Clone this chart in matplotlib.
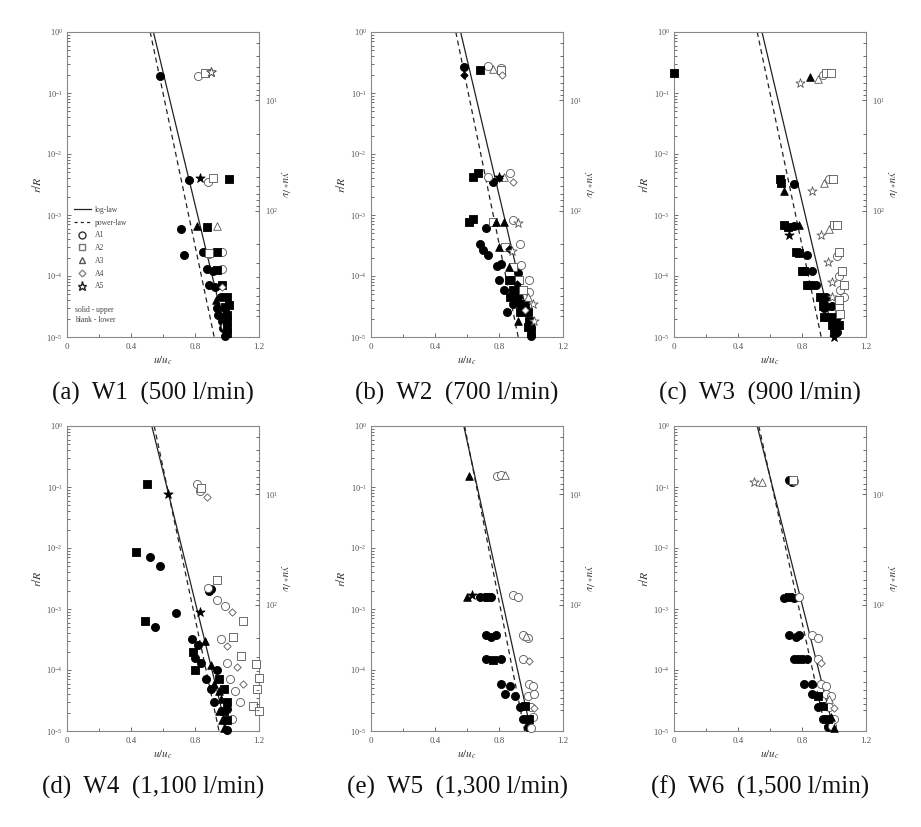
import numpy as np
import matplotlib
matplotlib.use("Agg")
import matplotlib.pyplot as plt
from matplotlib.lines import Line2D
from matplotlib.ticker import LogLocator, NullFormatter, MultipleLocator

plt.rcParams['font.family'] = ['Liberation Serif', 'DejaVu Serif']
plt.rcParams['mathtext.fontset'] = 'stix'

# panel captions
captions = ['(a)  W1  (500 l/min)', '(b)  W2  (700 l/min)', '(c)  W3  (900 l/min)',
            '(d)  W4  (1,100 l/min)', '(e)  W5  (1,300 l/min)', '(f)  W6  (1,500 l/min)']

# log-law (solid) and power-law (dashed): u/u_c at r/R = 1 and r/R = 1e-5
loglaw_top = [0.54, 0.56, 0.55, 0.53, 0.58, 0.52]
loglaw_bot = [1.00, 1.01, 1.00, 1.00, 1.00, 1.00]
powlaw_top = [0.52, 0.53, 0.52, 0.545, 0.585, 0.53]
powlaw_bot = [0.92, 0.92, 0.92, 0.95, 0.96, 0.95]

# points: (kind, u/u_c, r/R); upper case = solid (upper), lower case = blank (lower)
# O/o = A1, S/s = A2, T/t = A3, D/d = A4, P/p = A5
W1 = [('O', 0.58, 0.19), ('o', 0.82, 0.19), ('s', 0.86, 0.21), ('p', 0.90, 0.22), ('P', 0.90, 0.22),
      ('O', 0.76, 3.7e-3), ('P', 0.83, 4.1e-3), ('o', 0.88, 3.5e-3), ('s', 0.91, 4.0e-3), ('S', 1.01, 3.9e-3),
      ('O', 0.71, 6.0e-4), ('T', 0.81, 6.5e-4), ('S', 0.875, 6.3e-4), ('t', 0.94, 6.5e-4),
      ('O', 0.73, 2.2e-4), ('O', 0.85, 2.5e-4), ('o', 0.89, 2.3e-4), ('s', 0.89, 2.4e-4), ('S', 0.94, 2.5e-4),
      ('o', 0.97, 2.5e-4),
      ('O', 0.875, 1.3e-4), ('O', 0.91, 1.2e-4), ('S', 0.94, 1.25e-4), ('o', 0.97, 1.3e-4),
      ('O', 0.89, 7.0e-5), ('O', 0.925, 6.5e-5), ('S', 0.97, 7.0e-5), ('d', 0.97, 6.5e-5),
      ('O', 0.96, 4.6e-5), ('S', 1.00, 4.5e-5), ('T', 0.93, 4.0e-5),
      ('O', 0.94, 3.0e-5), ('S', 0.99, 3.1e-5), ('S', 1.01, 3.3e-5),
      ('O', 0.945, 2.3e-5), ('S', 1.00, 2.3e-5), ('T', 0.98, 2.5e-5),
      ('O', 0.97, 1.8e-5), ('S', 1.00, 1.8e-5),
      ('O', 0.975, 1.4e-5), ('S', 1.00, 1.4e-5), ('o', 0.99, 1.5e-5),
      ('S', 1.00, 1.15e-5), ('O', 0.99, 1.05e-5)]

W2 = [('O', 0.58, 0.27), ('D', 0.58, 0.20), ('S', 0.68, 0.24), ('o', 0.73, 0.28), ('t', 0.76, 0.245),
      ('s', 0.81, 0.24), ('d', 0.82, 0.20), ('o', 0.81, 0.26),
      ('S', 0.64, 4.2e-3), ('S', 0.67, 4.9e-3), ('o', 0.73, 4.2e-3), ('O', 0.76, 3.5e-3), ('D', 0.80, 4.0e-3),
      ('P', 0.80, 4.2e-3), ('t', 0.83, 4.2e-3), ('o', 0.87, 4.9e-3), ('d', 0.89, 3.5e-3),
      ('S', 0.61, 7.8e-4), ('S', 0.64, 8.5e-4), ('O', 0.72, 6.2e-4), ('s', 0.76, 7.8e-4), ('T', 0.78, 7.8e-4),
      ('T', 0.83, 7.8e-4), ('o', 0.885, 8.2e-4), ('p', 0.92, 7.5e-4),
      ('O', 0.68, 3.3e-4), ('O', 0.70, 2.7e-4), ('O', 0.73, 2.2e-4), ('T', 0.80, 3.0e-4), ('s', 0.84, 3.0e-4),
      ('D', 0.86, 2.8e-4), ('o', 0.93, 3.3e-4), ('p', 0.88, 2.6e-4),
      ('O', 0.79, 1.45e-4), ('O', 0.81, 1.6e-4), ('T', 0.86, 1.4e-4), ('s', 0.89, 1.4e-4), ('o', 0.935, 1.5e-4),
      ('O', 0.92, 1.1e-4),
      ('O', 0.80, 8.5e-5), ('S', 0.86, 8.5e-5), ('S', 0.885, 8.5e-5), ('s', 0.925, 8.5e-5), ('o', 0.99, 8.5e-5),
      ('D', 0.91, 7.5e-5),
      ('O', 0.83, 5.9e-5), ('S', 0.885, 5.9e-5), ('O', 0.92, 5.9e-5), ('s', 0.95, 5.9e-5), ('o', 0.99, 5.5e-5),
      ('S', 0.87, 4.6e-5), ('O', 0.92, 4.6e-5), ('t', 0.98, 4.6e-5), ('S', 0.90, 4.0e-5),
      ('O', 0.885, 3.5e-5), ('S', 0.935, 3.5e-5), ('S', 0.965, 3.5e-5), ('p', 1.01, 3.5e-5),
      ('O', 0.85, 2.6e-5), ('S', 0.93, 2.6e-5), ('S', 0.98, 2.6e-5), ('d', 0.96, 2.8e-5),
      ('T', 0.92, 1.8e-5), ('S', 0.99, 1.8e-5), ('p', 1.02, 1.8e-5),
      ('S', 0.98, 1.45e-5), ('O', 1.00, 1.45e-5),
      ('S', 1.00, 1.2e-5), ('O', 1.00, 1.05e-5)]

W3 = [('S', 0.00, 0.21), ('p', 0.79, 0.145), ('T', 0.85, 0.18), ('t', 0.90, 0.17), ('o', 0.93, 0.20),
      ('s', 0.95, 0.21), ('s', 0.98, 0.21),
      ('S', 0.66, 3.9e-3), ('S', 0.67, 3.4e-3), ('T', 0.69, 2.5e-3), ('O', 0.75, 3.2e-3), ('p', 0.86, 2.5e-3),
      ('t', 0.94, 3.4e-3), ('o', 0.97, 3.9e-3), ('s', 0.995, 3.9e-3),
      ('S', 0.69, 6.9e-4), ('S', 0.71, 6.3e-4), ('O', 0.75, 6.5e-4), ('T', 0.78, 6.9e-4), ('P', 0.72, 4.7e-4),
      ('p', 0.92, 4.7e-4), ('t', 0.97, 6.0e-4), ('s', 1.00, 6.9e-4), ('s', 1.02, 6.9e-4),
      ('S', 0.76, 2.5e-4), ('S', 0.78, 2.4e-4), ('O', 0.83, 2.2e-4), ('p', 0.96, 1.7e-4), ('s', 1.03, 2.5e-4),
      ('o', 1.02, 2.1e-4),
      ('S', 0.80, 1.2e-4), ('S', 0.815, 1.2e-4), ('O', 0.86, 1.2e-4), ('p', 0.99, 7.9e-5), ('o', 1.03, 1.0e-4),
      ('s', 1.05, 1.2e-4),
      ('S', 0.83, 7.1e-5), ('S', 0.85, 7.1e-5), ('O', 0.89, 7.1e-5), ('s', 1.06, 7.1e-5), ('o', 1.04, 6.0e-5),
      ('S', 0.91, 4.6e-5), ('S', 0.93, 4.4e-5), ('O', 0.95, 4.6e-5), ('p', 0.99, 4.6e-5), ('s', 1.03, 4.0e-5),
      ('o', 1.06, 4.6e-5),
      ('S', 0.93, 3.2e-5), ('O', 0.94, 3.0e-5), ('T', 0.96, 3.2e-5), ('O', 0.99, 3.2e-5), ('s', 1.03, 3.0e-5),
      ('S', 0.94, 2.1e-5), ('S', 0.96, 2.1e-5), ('O', 1.00, 2.1e-5), ('O', 1.02, 2.1e-5), ('s', 1.04, 2.4e-5),
      ('S', 0.99, 1.6e-5), ('O', 1.01, 1.6e-5), ('S', 1.03, 1.6e-5),
      ('S', 1.00, 1.2e-5), ('O', 1.02, 1.2e-5), ('P', 1.00, 1.0e-5)]

W4 = [('S', 0.50, 0.11), ('P', 0.63, 0.078), ('o', 0.81, 0.11), ('o', 0.83, 0.087), ('s', 0.84, 0.095),
      ('d', 0.875, 0.069),
      ('S', 0.43, 8.7e-3), ('O', 0.52, 7.2e-3), ('O', 0.58, 5.0e-3), ('o', 0.88, 2.2e-3), ('s', 0.94, 3.0e-3),
      ('O', 0.89, 2.0e-3), ('O', 0.90, 2.1e-3),
      ('S', 0.49, 6.3e-4), ('O', 0.55, 5.0e-4), ('O', 0.68, 8.5e-4), ('o', 0.94, 1.4e-3), ('o', 0.99, 1.1e-3),
      ('s', 1.10, 6.3e-4), ('d', 1.03, 9.0e-4), ('P', 0.83, 9.0e-4),
      ('O', 0.78, 3.2e-4), ('O', 0.82, 2.6e-4), ('S', 0.79, 2.0e-4), ('T', 0.86, 3.0e-4), ('o', 0.96, 3.2e-4),
      ('s', 1.04, 3.5e-4), ('d', 1.00, 2.5e-4), ('O', 0.80, 1.6e-4), ('s', 1.09, 1.7e-4),
      ('O', 0.84, 1.3e-4), ('S', 0.80, 1.0e-4), ('T', 0.90, 1.2e-4), ('O', 0.94, 1.0e-4), ('o', 1.00, 1.3e-4),
      ('s', 1.18, 1.26e-4), ('d', 1.06, 1.1e-4),
      ('O', 0.87, 7.0e-5), ('T', 0.92, 6.0e-5), ('S', 0.95, 7.0e-5), ('o', 1.02, 7.0e-5), ('s', 1.20, 7.5e-5),
      ('d', 1.10, 6.0e-5),
      ('O', 0.90, 4.9e-5), ('T', 0.95, 4.5e-5), ('S', 0.98, 4.9e-5), ('s', 1.19, 4.9e-5), ('o', 1.05, 4.5e-5),
      ('O', 0.92, 3.0e-5), ('T', 0.96, 3.3e-5), ('S', 1.00, 3.0e-5), ('s', 1.16, 2.6e-5), ('o', 1.08, 3.0e-5),
      ('T', 0.95, 2.1e-5), ('S', 0.98, 2.1e-5), ('s', 1.20, 2.1e-5), ('O', 1.00, 2.3e-5),
      ('T', 0.97, 1.5e-5), ('S', 1.00, 1.5e-5), ('o', 1.03, 1.6e-5),
      ('T', 0.98, 1.1e-5), ('O', 1.00, 1.05e-5)]

W5 = [('T', 0.61, 0.15), ('o', 0.79, 0.15), ('o', 0.81, 0.16), ('t', 0.84, 0.155),
      ('T', 0.60, 1.6e-3), ('P', 0.63, 1.7e-3), ('O', 0.68, 1.6e-3), ('O', 0.71, 1.6e-3), ('O', 0.75, 1.6e-3),
      ('S', 0.73, 1.55e-3), ('o', 0.89, 1.7e-3), ('o', 0.92, 1.55e-3),
      ('O', 0.72, 3.7e-4), ('O', 0.75, 3.5e-4), ('O', 0.78, 3.7e-4), ('o', 0.95, 3.7e-4), ('o', 0.98, 3.3e-4),
      ('t', 0.97, 3.6e-4),
      ('O', 0.72, 1.5e-4), ('S', 0.76, 1.45e-4), ('O', 0.81, 1.5e-4), ('o', 0.95, 1.5e-4), ('d', 0.99, 1.4e-4),
      ('O', 0.81, 6.0e-5), ('O', 0.87, 5.5e-5), ('o', 0.99, 5.9e-5), ('o', 1.01, 5.5e-5),
      ('O', 0.84, 4.0e-5), ('O', 0.90, 3.7e-5), ('o', 0.98, 3.8e-5), ('o', 1.02, 4.0e-5),
      ('O', 0.93, 2.5e-5), ('S', 0.96, 2.6e-5), ('o', 1.00, 2.5e-5), ('d', 1.02, 2.4e-5),
      ('O', 0.95, 1.6e-5), ('S', 0.99, 1.6e-5), ('o', 1.01, 1.7e-5),
      ('O', 0.98, 1.15e-5), ('o', 1.00, 1.1e-5)]

W6 = [('p', 0.50, 0.12), ('t', 0.55, 0.12), ('O', 0.72, 0.13), ('O', 0.74, 0.12), ('o', 0.75, 0.125),
      ('s', 0.745, 0.13),
      ('O', 0.69, 1.5e-3), ('S', 0.72, 1.55e-3), ('O', 0.75, 1.5e-3), ('o', 0.78, 1.55e-3),
      ('O', 0.72, 3.7e-4), ('O', 0.76, 3.5e-4), ('O', 0.78, 3.7e-4), ('o', 0.86, 3.7e-4), ('o', 0.90, 3.3e-4),
      ('O', 0.75, 1.5e-4), ('S', 0.79, 1.5e-4), ('O', 0.83, 1.5e-4), ('o', 0.90, 1.5e-4), ('d', 0.92, 1.3e-4),
      ('O', 0.81, 6.0e-5), ('O', 0.86, 6.0e-5), ('o', 0.92, 6.0e-5), ('o', 0.95, 5.5e-5),
      ('O', 0.86, 4.0e-5), ('S', 0.90, 3.8e-5), ('o', 0.95, 4.0e-5), ('o', 0.98, 3.7e-5), ('t', 0.97, 3.3e-5),
      ('O', 0.90, 2.5e-5), ('S', 0.93, 2.6e-5), ('o', 0.97, 2.5e-5), ('d', 1.00, 2.4e-5),
      ('O', 0.93, 1.6e-5), ('S', 0.96, 1.6e-5), ('T', 0.98, 1.7e-5), ('o', 1.00, 1.6e-5),
      ('O', 0.96, 1.15e-5), ('T', 1.00, 1.1e-5), ('o', 0.99, 1.2e-5)]

panels = [W1, W2, W3, W4, W5, W6]

mk = {'o': 'o', 's': 's', 't': '^', 'd': 'D', 'p': '*'}
msize = {'o': 34, 's': 34, 't': 30, 'd': 14, 'p': 48}

fig = plt.figure(figsize=(9.21, 8.27), dpi=100)
W, H = 921, 827
lefts = [67, 371, 674]
tops = [32, 426]
aw, ah = 192, 305

for i, pts in enumerate(panels):
    col, row = i % 3, i // 3
    x0, y0 = lefts[col], tops[row]
    ax = fig.add_axes([x0 / W, 1 - (y0 + ah) / H, aw / W, ah / H])
    ax.set_yscale('log')
    ax.set_xlim(0, 1.2)
    ax.set_ylim(1e-5, 1)

    # model lines
    rr = np.array([1.0, 1e-5])
    ax.plot([loglaw_top[i], loglaw_bot[i]], rr, '-', color='#222222', lw=0.9, zorder=2)
    ax.plot([powlaw_top[i], powlaw_bot[i]], rr, '--', color='#222222', lw=0.9,
            dashes=(4, 3), zorder=2)

    for k in 'ostdp':
        for filled in (True, False):
            code = k.upper() if filled else k
            sel = [(u, r) for c, u, r in pts if c == code]
            if not sel:
                continue
            u, r = zip(*sel)
            ax.scatter(u, r, s=msize[k], marker=mk[k],
                       facecolors='black' if filled else 'white',
                       edgecolors='black' if filled else '#555555',
                       linewidths=0.6, zorder=3, clip_on=False)

    for sp in ax.spines.values():
        sp.set_color('#888888')
        sp.set_linewidth(0.8)
    ax.set_xticks([0, 0.4, 0.8, 1.2])
    ax.set_xticklabels(['0', '0.4', '0.8', '1.2'])
    ax.xaxis.set_minor_locator(MultipleLocator(0.2))
    ax.tick_params(axis='x', which='both', direction='in', top=False, labelsize=6.5,
                   colors='#555555', length=3, width=0.6, pad=4)
    ax.tick_params(axis='x', which='minor', length=2)
    ax.set_yticks([1e-5, 1e-4, 1e-3, 1e-2, 1e-1, 1])
    ax.yaxis.set_minor_locator(LogLocator(base=10, subs=np.arange(2, 10)))
    ax.yaxis.set_minor_formatter(NullFormatter())
    ax.tick_params(axis='y', which='both', direction='in', right=False, labelsize=6,
                   colors='#555555', length=3, width=0.6, pad=3)
    ax.tick_params(axis='y', which='minor', length=2)
    ax.set_xlabel('$u/u_c$', fontsize=8, color='#333333', labelpad=3)
    ax.set_ylabel('$r/R$', fontsize=8.5, color='#333333', labelpad=2)

    # wall unit axis on the right (increases downward)
    ax2 = ax.twinx()
    ax2.set_yscale('log')
    ax2.set_ylim(1400, 2.4)
    ax2.set_yticks([10, 100])
    ax2.yaxis.set_minor_locator(LogLocator(base=10, subs=np.arange(2, 10)))
    ax2.yaxis.set_minor_formatter(NullFormatter())
    ax2.tick_params(axis='y', which='both', direction='in', labelsize=6, colors='#555555',
                    length=3, width=0.6, pad=4)
    ax2.tick_params(axis='y', which='minor', length=2)
    ax2.set_ylabel('$yu_*/\\nu$', fontsize=8, color='#333333', rotation=270, labelpad=10)
    for sp in ax2.spines.values():
        sp.set_visible(False)

    fig.text((x0 + aw / 2 - 10) / W, 1 - (y0 + ah + 56) / H, captions[i],
             ha='center', va='center', fontsize=18, color='#111111')

    if i == 0:
        handles = [Line2D([], [], color='#222222', lw=0.9, ls='-'),
                   Line2D([], [], color='#222222', lw=0.9, ls='--', dashes=(2.5, 2.5)),
                   Line2D([], [], ls='', marker='o', mfc='white', mec='#333333', ms=5),
                   Line2D([], [], ls='', marker='s', mfc='white', mec='#777777', ms=5),
                   Line2D([], [], ls='', marker='^', mfc='white', mec='#555555', ms=5),
                   Line2D([], [], ls='', marker='D', mfc='white', mec='#888888', ms=3.5),
                   Line2D([], [], ls='', marker='*', mfc='white', mec='#222222', ms=6.5)]
        labels = ['log-law', 'power-law', 'A1', 'A2', 'A3', 'A4', 'A5']
        leg = ax.legend(handles, labels, loc='upper left', bbox_to_anchor=(0.02, 0.44),
                        frameon=False, fontsize=5.5, labelspacing=0.62, handlelength=2.2,
                        handletextpad=0.6, borderaxespad=0)
        for t in leg.get_texts():
            t.set_color('#444444')
        ax.text(0.04, 0.10, 'solid - upper\nblank - lower', transform=ax.transAxes,
                fontsize=5.5, color='#444444', va='top', linespacing=1.3)

fig.savefig('out.png', dpi=100, facecolor='white')
